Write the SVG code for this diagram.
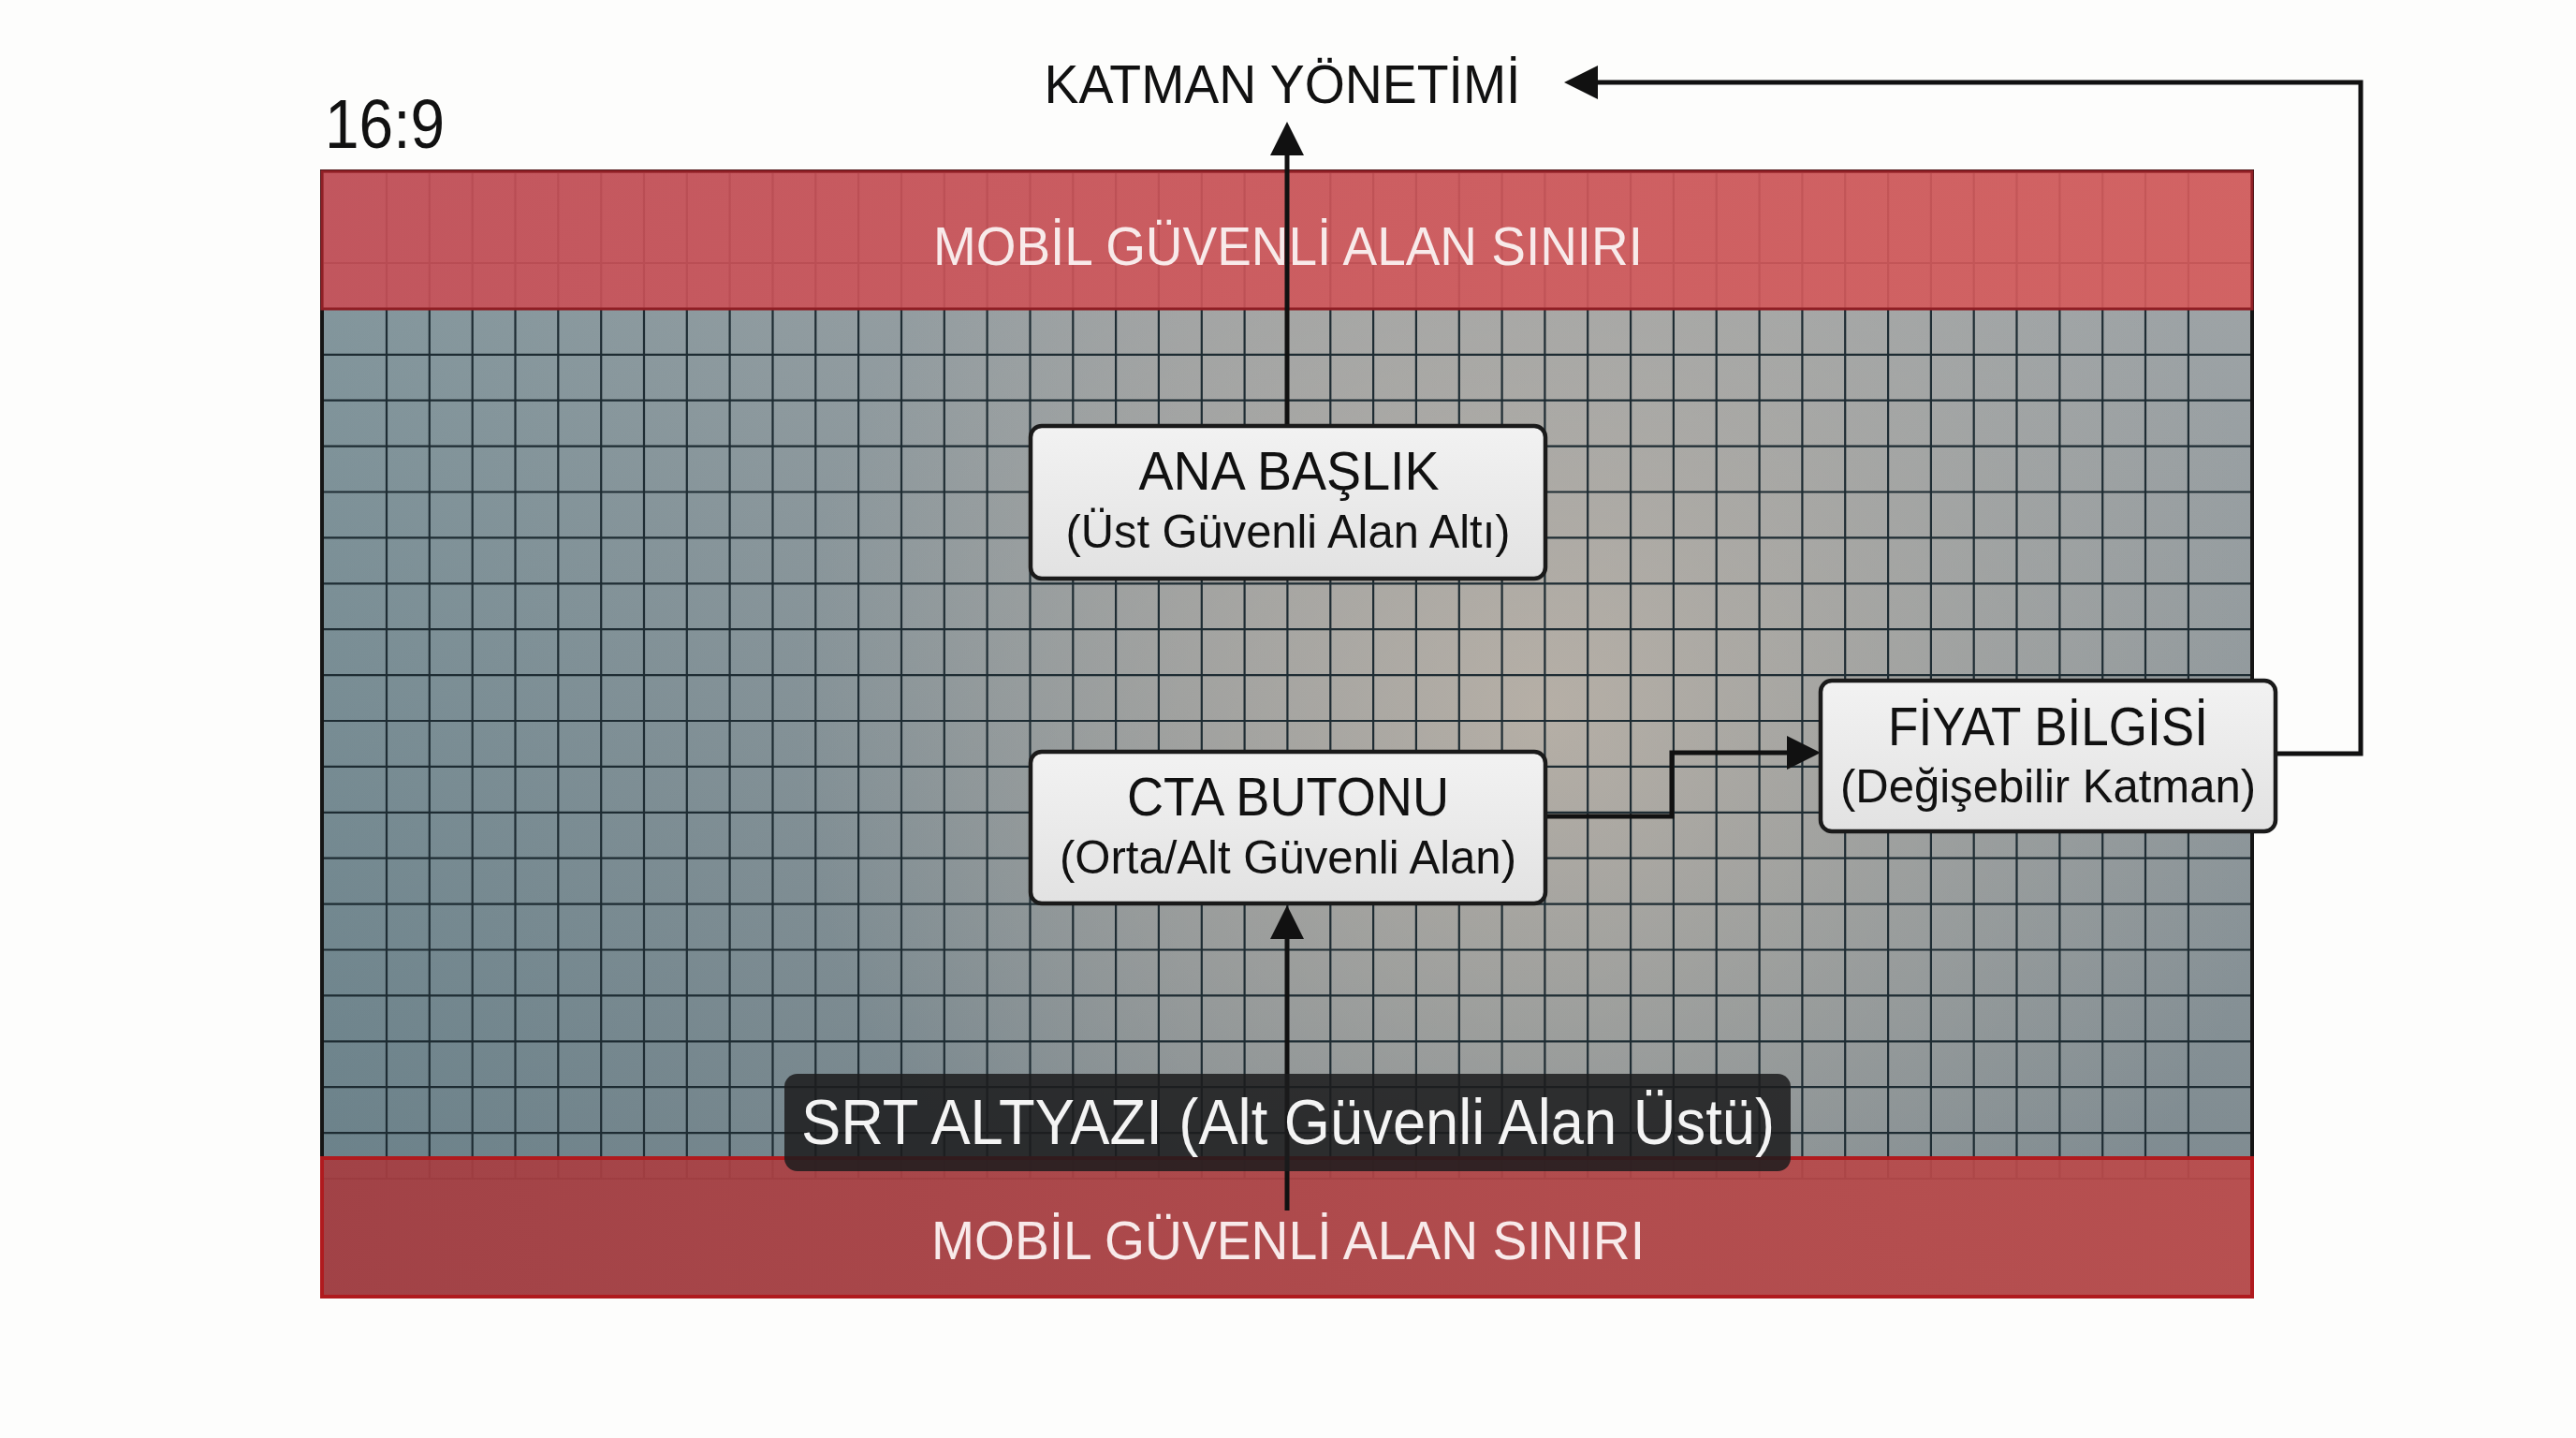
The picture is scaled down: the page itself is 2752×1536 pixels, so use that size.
<svg xmlns="http://www.w3.org/2000/svg" width="2752" height="1536" viewBox="0 0 2752 1536">
  <defs>
    <linearGradient id="bgH" x1="0" y1="0" x2="1" y2="0">
      <stop offset="0" stop-color="#86999f"/>
      <stop offset="0.45" stop-color="#a0a4a6"/>
      <stop offset="1" stop-color="#a2a7a9"/>
    </linearGradient>
    <linearGradient id="bgV" x1="0" y1="0" x2="0" y2="1">
      <stop offset="0" stop-color="#2c4a58" stop-opacity="0"/>
      <stop offset="1" stop-color="#2c4a58" stop-opacity="0.33"/>
    </linearGradient>
    <radialGradient id="warm" cx="1650" cy="760" r="800" gradientUnits="userSpaceOnUse">
      <stop offset="0" stop-color="#cbbcac" stop-opacity="0.65"/>
      <stop offset="0.6" stop-color="#c2b7ab" stop-opacity="0.28"/>
      <stop offset="1" stop-color="#c2b7ab" stop-opacity="0"/>
    </radialGradient>
    <linearGradient id="bandTop" x1="0" y1="0" x2="1" y2="0">
      <stop offset="0" stop-color="#c84f57"/>
      <stop offset="1" stop-color="#d75c5c"/>
    </linearGradient>
    <linearGradient id="bandBot" x1="0" y1="0" x2="1" y2="0">
      <stop offset="0" stop-color="#a63d41"/>
      <stop offset="1" stop-color="#bc4b4b"/>
    </linearGradient>
    <linearGradient id="boxFill" x1="0" y1="0" x2="0" y2="1">
      <stop offset="0" stop-color="#f2f2f2"/>
      <stop offset="1" stop-color="#e2e2e2"/>
    </linearGradient>
    <marker id="arrow" viewBox="0 0 36 36" refX="16" refY="18" markerWidth="36" markerHeight="36" markerUnits="userSpaceOnUse" orient="auto">
      <path d="M0,0 L36,18 L0,36 z" fill="#111"/>
    </marker>
    <style>
      .t { font-family: "Liberation Sans", Arial, sans-serif; text-anchor: middle; }
      .box { fill: url(#boxFill); stroke: #1a1a1a; stroke-width: 4.5; }
      .title { font-size: 57px; fill: #111; }
      .sub { font-size: 50px; fill: #111; }
      .band { font-size: 58px; fill: #f8eaea; }
      .grid line { stroke: #1e2c33; stroke-width: 2.2; }
      .conn { fill: none; stroke: #111; stroke-width: 5; }
    </style>
  </defs>

  <rect x="0" y="0" width="2752" height="1536" fill="#fdfdfc"/>

  <g id="frame">
    <rect x="344" y="183" width="2062" height="1202" fill="url(#bgH)"/>
    <rect x="344" y="183" width="2062" height="1202" fill="url(#bgV)"/>
    <rect x="344" y="183" width="2062" height="1202" fill="url(#warm)"/>
  </g>

  <g id="grid" class="grid">
    <line x1="413" y1="183" x2="413" y2="1259"/><line x1="458.8" y1="183" x2="458.8" y2="1259"/><line x1="504.7" y1="183" x2="504.7" y2="1259"/><line x1="550.5" y1="183" x2="550.5" y2="1259"/><line x1="596.3" y1="183" x2="596.3" y2="1259"/><line x1="642.2" y1="183" x2="642.2" y2="1259"/><line x1="688" y1="183" x2="688" y2="1259"/><line x1="733.8" y1="183" x2="733.8" y2="1259"/><line x1="779.6" y1="183" x2="779.6" y2="1259"/><line x1="825.5" y1="183" x2="825.5" y2="1259"/><line x1="871.3" y1="183" x2="871.3" y2="1259"/><line x1="917.1" y1="183" x2="917.1" y2="1259"/><line x1="963" y1="183" x2="963" y2="1259"/><line x1="1008.8" y1="183" x2="1008.8" y2="1259"/><line x1="1054.6" y1="183" x2="1054.6" y2="1259"/><line x1="1100.5" y1="183" x2="1100.5" y2="1259"/><line x1="1146.3" y1="183" x2="1146.3" y2="1259"/><line x1="1192.1" y1="183" x2="1192.1" y2="1259"/><line x1="1237.9" y1="183" x2="1237.9" y2="1259"/><line x1="1283.8" y1="183" x2="1283.8" y2="1259"/><line x1="1329.6" y1="183" x2="1329.6" y2="1259"/><line x1="1375.4" y1="183" x2="1375.4" y2="1259"/><line x1="1421.3" y1="183" x2="1421.3" y2="1259"/><line x1="1467.1" y1="183" x2="1467.1" y2="1259"/><line x1="1512.9" y1="183" x2="1512.9" y2="1259"/><line x1="1558.8" y1="183" x2="1558.8" y2="1259"/><line x1="1604.6" y1="183" x2="1604.6" y2="1259"/><line x1="1650.4" y1="183" x2="1650.4" y2="1259"/><line x1="1696.2" y1="183" x2="1696.2" y2="1259"/><line x1="1742.1" y1="183" x2="1742.1" y2="1259"/><line x1="1787.9" y1="183" x2="1787.9" y2="1259"/><line x1="1833.7" y1="183" x2="1833.7" y2="1259"/><line x1="1879.6" y1="183" x2="1879.6" y2="1259"/><line x1="1925.4" y1="183" x2="1925.4" y2="1259"/><line x1="1971.2" y1="183" x2="1971.2" y2="1259"/><line x1="2017.1" y1="183" x2="2017.1" y2="1259"/><line x1="2062.9" y1="183" x2="2062.9" y2="1259"/><line x1="2108.7" y1="183" x2="2108.7" y2="1259"/><line x1="2154.5" y1="183" x2="2154.5" y2="1259"/><line x1="2200.4" y1="183" x2="2200.4" y2="1259"/><line x1="2246.2" y1="183" x2="2246.2" y2="1259"/><line x1="2292" y1="183" x2="2292" y2="1259"/><line x1="2337.9" y1="183" x2="2337.9" y2="1259"/>
    <line x1="344" y1="281" x2="2406" y2="281"/><line x1="344" y1="329.9" x2="2406" y2="329.9"/><line x1="344" y1="378.8" x2="2406" y2="378.8"/><line x1="344" y1="427.7" x2="2406" y2="427.7"/><line x1="344" y1="476.6" x2="2406" y2="476.6"/><line x1="344" y1="525.5" x2="2406" y2="525.5"/><line x1="344" y1="574.4" x2="2406" y2="574.4"/><line x1="344" y1="623.3" x2="2406" y2="623.3"/><line x1="344" y1="672.2" x2="2406" y2="672.2"/><line x1="344" y1="721.1" x2="2406" y2="721.1"/><line x1="344" y1="770" x2="2406" y2="770"/><line x1="344" y1="818.9" x2="2406" y2="818.9"/><line x1="344" y1="867.8" x2="2406" y2="867.8"/><line x1="344" y1="916.7" x2="2406" y2="916.7"/><line x1="344" y1="965.6" x2="2406" y2="965.6"/><line x1="344" y1="1014.5" x2="2406" y2="1014.5"/><line x1="344" y1="1063.4" x2="2406" y2="1063.4"/><line x1="344" y1="1112.3" x2="2406" y2="1112.3"/><line x1="344" y1="1161.2" x2="2406" y2="1161.2"/><line x1="344" y1="1210.1" x2="2406" y2="1210.1"/><line x1="344" y1="1259" x2="2406" y2="1259"/>
  </g>

  <rect x="344" y="183" width="2062" height="1202" fill="none" stroke="#151515" stroke-width="4"/>

  <g id="band-top">
    <rect x="344" y="183" width="2062" height="147" fill="url(#bandTop)" fill-opacity="0.9" stroke="#8f1f25" stroke-width="3"/>
    <text class="t band" x="1376" y="283" textLength="758" lengthAdjust="spacingAndGlyphs">MOBİL GÜVENLİ ALAN SINIRI</text>
  </g>

  <g id="band-bottom">
    <rect x="344" y="1237" width="2062" height="148" fill="url(#bandBot)" fill-opacity="0.92" stroke="#b01a1e" stroke-width="4"/>
    <text class="t band" x="1376" y="1345" textLength="762" lengthAdjust="spacingAndGlyphs">MOBİL GÜVENLİ ALAN SINIRI</text>
  </g>

  <g id="label-ratio">
    <text x="347" y="158" font-family="Liberation Sans, Arial, sans-serif" font-size="74" fill="#111" textLength="128" lengthAdjust="spacingAndGlyphs">16:9</text>
  </g>

  <g id="katman-yonetimi">
    <text class="t" x="1370" y="110" font-size="58" fill="#111" textLength="509" lengthAdjust="spacingAndGlyphs">KATMAN YÖNETİMİ</text>
  </g>

  <g id="connectors">
    <path class="conn" d="M1375,455 L1375,150" marker-end="url(#arrow)"/>
    <path class="conn" d="M1375,1293 L1375,987" marker-end="url(#arrow)"/>
    <path class="conn" d="M1651,872 L1786,872 L1786,804 L1925,804" marker-end="url(#arrow)"/>
    <path class="conn" d="M2431,805 L2522,805 L2522,88 L1691,88" marker-end="url(#arrow)"/>
  </g>

  <g id="ana-baslik">
    <rect class="box" x="1101" y="455" width="550" height="163" rx="12"/>
    <text class="t title" x="1377" y="523" textLength="321" lengthAdjust="spacingAndGlyphs">ANA BAŞLIK</text>
    <text class="t sub" x="1376" y="585" textLength="475" lengthAdjust="spacingAndGlyphs">(Üst Güvenli Alan Altı)</text>
  </g>

  <g id="cta-butonu">
    <rect class="box" x="1101" y="803" width="550" height="162" rx="12"/>
    <text class="t title" x="1376" y="871" textLength="344" lengthAdjust="spacingAndGlyphs">CTA BUTONU</text>
    <text class="t sub" x="1376" y="933" textLength="488" lengthAdjust="spacingAndGlyphs">(Orta/Alt Güvenli Alan)</text>
  </g>

  <g id="fiyat-bilgisi">
    <rect class="box" x="1945" y="727" width="486" height="161" rx="12"/>
    <text class="t title" x="2188" y="796" textLength="342" lengthAdjust="spacingAndGlyphs">FİYAT BİLGİSİ</text>
    <text class="t sub" x="2188" y="857" textLength="444" lengthAdjust="spacingAndGlyphs">(Değişebilir Katman)</text>
  </g>

  <g id="srt-altyazi">
    <rect x="838" y="1147" width="1075" height="104" rx="14" fill="#1c1c1d" fill-opacity="0.86"/>
    <text class="t" x="1376" y="1222" font-size="68" fill="#f4f4f4" textLength="1040" lengthAdjust="spacingAndGlyphs">SRT ALTYAZI (Alt Güvenli Alan Üstü)</text>
  </g>
</svg>
